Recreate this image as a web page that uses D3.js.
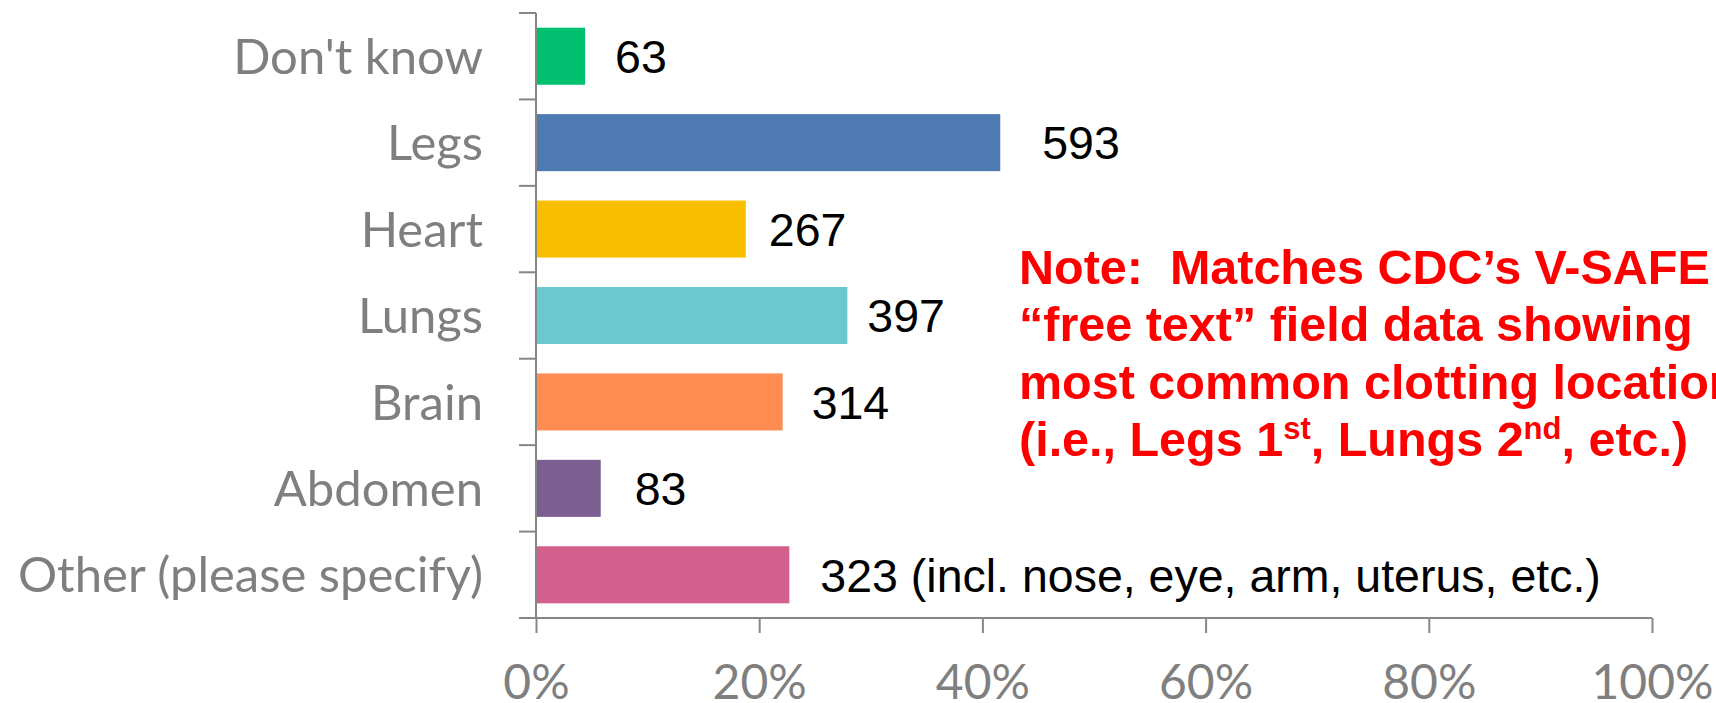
<!DOCTYPE html>
<html>
<head>
<meta charset="utf-8">
<script src="https://cdn.jsdelivr.net/npm/d3@7"></script>
<style>
  html, body { margin: 0; padding: 0; background: #fff; overflow: hidden; }
  svg { display: block; }
</style>
</head>
<body>
<svg id="chart" width="1716" height="703"></svg>
<script>
// ---- data ----
const categories = ["Don't know", "Legs", "Heart", "Lungs", "Brain", "Abdomen", "Other (please specify)"];
const counts = [63, 593, 267, 397, 314, 83, 323];
const percents = [0.044, 0.416, 0.188, 0.279, 0.221, 0.058, 0.227];
const labelSuffix = ["", "", "", "", "", "", " (incl. nose, eye, arm, uterus, etc.)"];
const colors = ["#00BF6F", "#4F7BB3", "#F9BE00", "#6BC8CC", "#FF8C51", "#7C5E90", "#D35F8D"];
const xTicks = [0, 0.2, 0.4, 0.6, 0.8, 1.0];
const noteLines = [
  [{t: "Note:\u00A0\u00A0Matches CDC\u2019s V-SAFE"}],
  [{t: "\u201Cfree text\u201D field data showing"}],
  [{t: "most common clotting locations"}],
  [{t: "(i.e., Legs 1"}, {t: "st", sup: true}, {t: ", Lungs 2"}, {t: "nd", sup: true}, {t: ", etc.)"}]
];

// ---- layout ----
const labelGap = [30, 42, 23, 20, 29, 34, 31];
const plot = {left: 536, right: 1652, top: 13, bottom: 618};
const axisColor = "#868686";
const catFont = "Lato, 'Open Sans', sans-serif";
const numFont = "'Liberation Sans', Arial, sans-serif";

const svg = d3.select("#chart");

const x = d3.scaleLinear().domain([0, 1]).range([plot.left, plot.right]);
const y = d3.scaleBand().domain(categories).range([plot.top, plot.bottom])
  .paddingInner(0.34).paddingOuter(0.17);
const step = y.step();

// bars
svg.append("g").selectAll("rect")
  .data(categories)
  .join("rect")
  .attr("x", x(0) + 1)
  .attr("y", d => y(d))
  .attr("width", (d, i) => x(percents[i]) - x(0) - 1)
  .attr("height", y.bandwidth())
  .attr("fill", (d, i) => colors[i]);

// value labels
svg.append("g").selectAll("text")
  .data(categories)
  .join("text")
  .attr("x", (d, i) => x(percents[i]) + labelGap[i])
  .attr("y", d => y(d) + y.bandwidth() / 2)
  .attr("dy", "0.36em")
  .attr("font-family", numFont)
  .attr("font-size", 46.5)
  .attr("fill", "#000")
  .text((d, i) => counts[i] + labelSuffix[i]);

// y axis line and ticks
const yAxis = svg.append("g").attr("stroke", axisColor).attr("stroke-width", 2);
yAxis.append("line")
  .attr("x1", plot.left).attr("x2", plot.left)
  .attr("y1", plot.top).attr("y2", plot.bottom);
const boundaries = d3.range(categories.length + 1).map(i => plot.top + i * step);
yAxis.selectAll("line.tick")
  .data(boundaries)
  .join("line")
  .attr("class", "tick")
  .attr("x1", plot.left - 17).attr("x2", plot.left)
  .attr("y1", d => d).attr("y2", d => d);

// category labels
svg.append("g").selectAll("text")
  .data(categories)
  .join("text")
  .attr("x", plot.left - 53)
  .attr("y", d => y(d) + y.bandwidth() / 2)
  .attr("dy", "0.36em")
  .attr("text-anchor", "end")
  .attr("font-family", catFont)
  .attr("font-size", 49)
  .attr("fill", "#7F7F7F")
  .text(d => d);

// x axis
const xAxisG = svg.append("g")
  .attr("transform", `translate(0,${plot.bottom})`)
  .call(d3.axisBottom(x).tickValues(xTicks).tickFormat(d3.format(".0%")).tickSize(15).tickSizeOuter(0));
xAxisG.select(".domain").remove();
xAxisG.selectAll(".tick line").attr("stroke", axisColor).attr("stroke-width", 2);
xAxisG.selectAll(".tick text")
  .attr("y", 81).attr("dy", 0)
  .attr("font-family", catFont)
  .attr("font-size", 48)
  .attr("fill", "#7F7F7F");
xAxisG.append("line")
  .attr("x1", plot.left - 17).attr("x2", plot.right)
  .attr("y1", 0).attr("y2", 0)
  .attr("stroke", axisColor).attr("stroke-width", 2);

// note
const note = svg.append("text")
  .attr("font-family", numFont)
  .attr("font-weight", "bold")
  .attr("font-size", 48.5)
  .attr("fill", "#FF0000");
noteLines.forEach((line, li) => {
  const baseY = 283.5 + li * 57.5;
  let first = true;
  line.forEach(seg => {
    const ts = note.append("tspan").text(seg.t);
    if (first) { ts.attr("x", 1019); first = false; }
    if (seg.sup) {
      ts.attr("y", baseY - 17).attr("font-size", 31);
    } else {
      ts.attr("y", baseY);
    }
  });
});
</script>
</body>
</html>
